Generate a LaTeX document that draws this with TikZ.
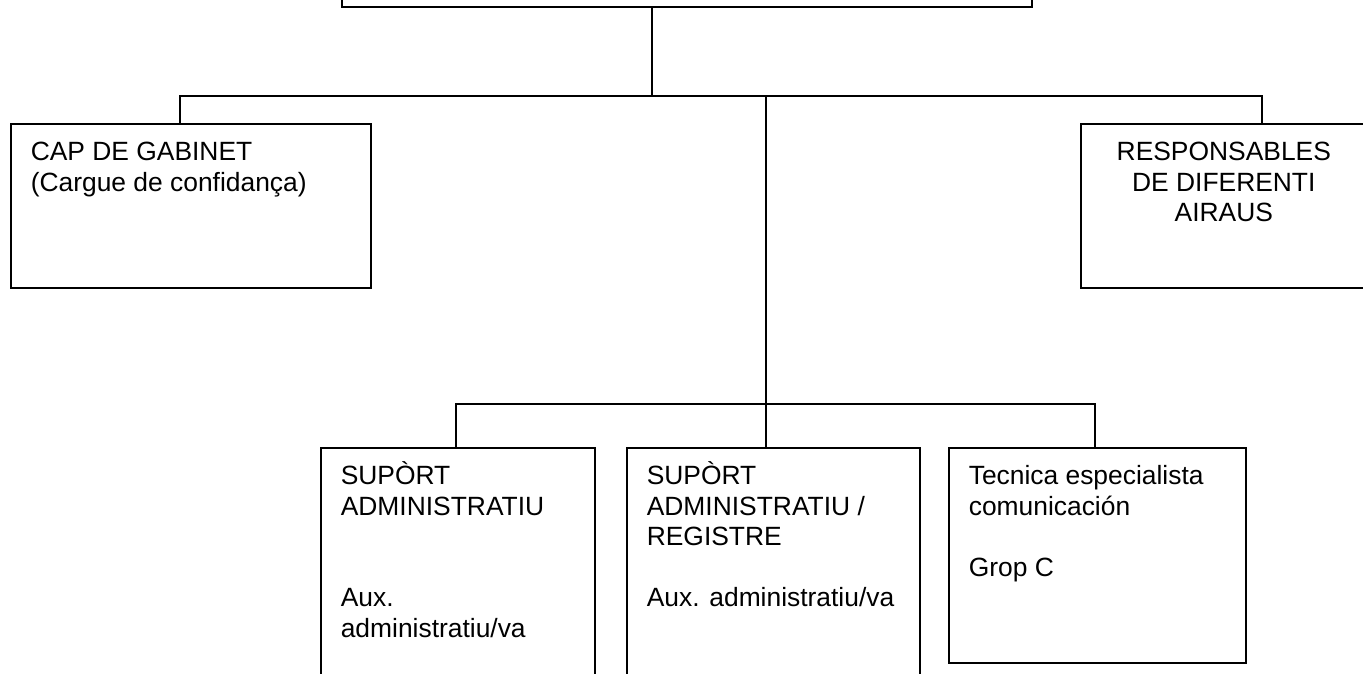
\documentclass[tikz,border=0pt]{standalone}
\usepackage{fontspec}
\setmainfont{Liberation Sans}
\usetikzlibrary{positioning}
\newcommand\puntal{\rule{0pt}{30pt}}

\begin{document}
\begin{tikzpicture}[x=1pt,y=1pt,line width=1.6pt,
  caixa/.style={draw,rectangle,inner sep=0pt,anchor=north west},
  texte/.style={inner sep=0pt,align=left,font=\fontsize{26.4pt}{30.5pt}\selectfont}]
\useasboundingbox (0,0) rectangle (1363,-673);
\clip (0,0) rectangle (1363,-673);
\node[draw,inner sep=0pt,minimum width=690pt,minimum height=100pt,anchor=south] (cap) at (687,-8) {};
\node[caixa,minimum width=360pt,minimum height=164pt] (gabinet) at (10,-123) {};
\node[caixa,minimum width=286pt,minimum height=164pt] (responsables) at (1080,-123) {};
\node[caixa,minimum width=274pt,minimum height=240pt] (suport) at (320,-447) {};
\node[caixa,minimum width=293pt,minimum height=240pt] (registre) at (626,-447) {};
\node[caixa,minimum width=297pt,minimum height=215pt] (tecnica) at (948,-447) {};
\node[texte,below right=7pt and 20pt of gabinet.north west] (gabinet-t) {\puntal CAP DE GABINET\\(Cargue de confidança)};
\node[texte,align=center,below=7pt of responsables.north] (responsables-t) {\puntal RESPONSABLES\\DE DIFERENTI\\AIRAUS};
\node[texte,below right=7pt and 20pt of suport.north west] (suport-t) {\puntal SUPÒRT\\ADMINISTRATIU\\[61pt]Aux.\\administratiu/va};
\node[texte,below right=7pt and 20pt of registre.north west] (registre-t) {\puntal SUPÒRT\\ADMINISTRATIU /\\REGISTRE\\[30.5pt]Aux. administratiu/va};
\node[texte,below right=7pt and 20pt of tecnica.north west] (tecnica-t) {\puntal Tecnica especialista\\comunicación\\[30.5pt]Grop C};
\coordinate (bus-g) at (180,-96);
\coordinate (bus-r) at (1262,-96);
\coordinate (bus-c) at (652,-96);
\coordinate (bus-m) at (766,-96);
\coordinate (bus2-s) at (456,-404);
\coordinate (bus2-r) at (766,-404);
\coordinate (bus2-t) at (1095,-404);
\draw (cap.south -| bus-c) -- (bus-c);
\draw (bus-g |- gabinet.north) -- (bus-g) -- (bus-r) -- (bus-r |- responsables.north);
\draw (bus-m) -- (bus2-r);
\draw (bus2-s |- suport.north) -- (bus2-s) -- (bus2-t) -- (bus2-t |- tecnica.north);
\draw (bus2-r) -- (bus2-r |- registre.north);
\end{tikzpicture}
\end{document}
